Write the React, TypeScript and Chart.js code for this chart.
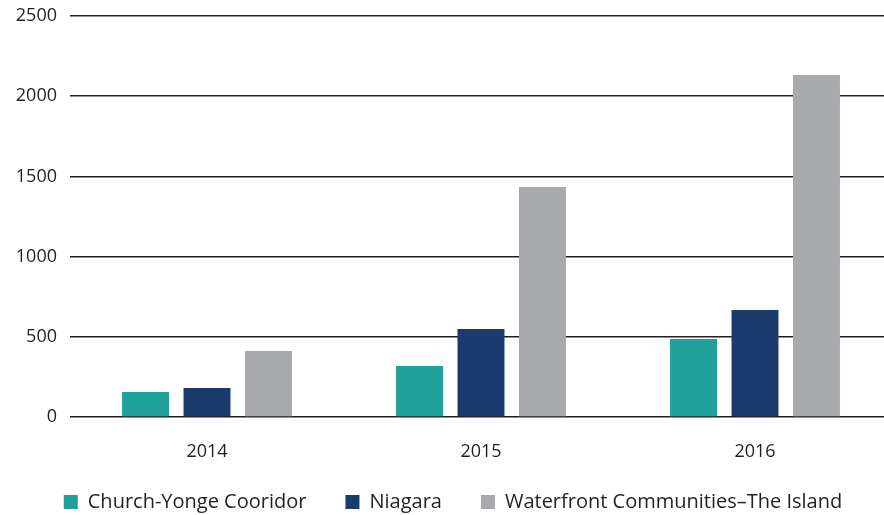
import React, { useEffect, useRef } from "react";
import { Chart, registerables } from "chart.js";

Chart.register(...registerables);

const categories = ["2014", "2015", "2016"];
const churchYonge = [156, 318, 486];
const niagara = [181, 549, 667];
const waterfront = [411, 1434, 2132];
const seriesNames = ["Church-Yonge Cooridor", "Niagara", "Waterfront Communities\u2013The Island"];
const seriesColors = ["#20a09b", "#1b3b6f", "#a7a9ac"];
const yTicks = [0, 500, 1000, 1500, 2000, 2500];

const FONT = "'Open Sans', 'Noto Sans', sans-serif";
const TEXT = "#231f20";

export default function App() {
  const ref = useRef<HTMLCanvasElement | null>(null);
  useEffect(() => {
    if (!ref.current) return;
    const chart = new Chart(ref.current, {
      type: "bar",
      data: {
        labels: categories,
        datasets: [churchYonge, niagara, waterfront].map((d, i) => ({
          label: seriesNames[i],
          data: d,
          backgroundColor: seriesColors[i],
          borderWidth: 0,
          categoryPercentage: 0.673,
          barPercentage: 0.764,
        })),
      },
      options: {
        responsive: false,
        animation: false,
        layout: { padding: { left: 14, right: 0, top: 16, bottom: 0 } },
        plugins: {
          tooltip: { enabled: false },
          legend: {
            position: "bottom",
            labels: {
              boxWidth: 14,
              boxHeight: 14,
              padding: 39,
              color: TEXT,
              font: { family: FONT, size: 20 },
            },
          },
        },
        scales: {
          x: {
            grid: { display: false, drawTicks: false },
            border: { display: false },
            ticks: {
              color: TEXT,
              font: { family: FONT, size: 18 },
              mirror: true,
              padding: -45.6,
            },
            afterFit: (s: any) => {
              s.height = 36;
            },
          },
          y: {
            min: 0,
            max: 2500,
            afterBuildTicks: (s: any) => {
              s.ticks = yTicks.map((v) => ({ value: v }));
            },
            grid: { color: TEXT, lineWidth: 1.5, drawTicks: false },
            border: { display: false },
            ticks: {
              color: TEXT,
              font: { family: FONT, size: 18 },
              padding: 13,
              callback: (v: any) => String(v),
            },
            afterFit: (s: any) => {
              s.width = 56;
              s.paddingTop = 0;
              s.paddingBottom = 0;
            },
          },
        },
      },
    });
    return () => chart.destroy();
  }, []);
  return (
    <div style={{ position: "fixed", left: 0, top: 0, width: 892, height: 522, background: "#fff" }}>
      <canvas ref={ref} width={892} height={522} />
    </div>
  );
}
